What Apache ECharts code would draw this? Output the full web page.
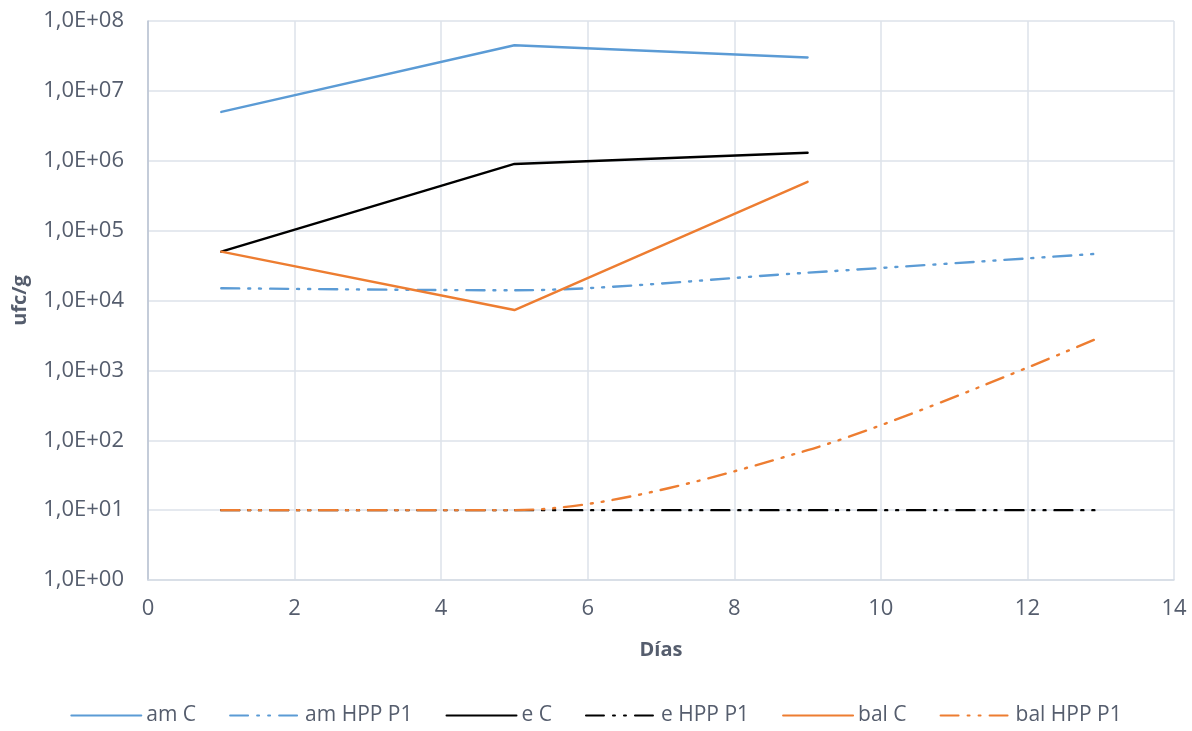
<!DOCTYPE html>
<html>
<head>
<meta charset="utf-8">
<script src="https://cdn.jsdelivr.net/npm/echarts@6/dist/echarts.min.js"></script>
<style>
  html, body { margin: 0; padding: 0; background: #fff; }
  #chart { width: 1192px; height: 731px; }
</style>
</head>
<body>
<div id="chart"></div>
<script>
// Sampling days
const diasC = [1, 5, 9];
const diasHPP = [1, 5, 9, 13];

// Counts (ufc/g) per series
const amC = [5.0e6, 4.5e7, 3.0e7];
const amHPP = [1.5e4, 1.4e4, 2.5e4, 4.7e4];
const eC = [5.0e4, 9.0e5, 1.3e6];
const eHPP = [10, 10, 10, 10];
const balC = [5.0e4, 7.3e3, 5.0e5];
const balHPP = [10, 10, 72, 3.0e3];

const BLUE = '#5B9BD5';
const ORANGE = '#ED7D31';
const BLACK = '#000000';
const TEXT = '#555d6d';
const FONT = '"Open Sans", "Noto Sans", sans-serif';
const DASH_DOT_DOT = [18, 9, 2, 9, 2, 9];

function pairs(xs, ys) { return xs.map((x, i) => [x, ys[i]]); }

function line(name, xs, ys, color, dashed) {
  return {
    name, type: 'line',
    data: pairs(xs, ys),
    symbol: 'none',
    smooth: dashed ? 0.3 : false,
    lineStyle: { color, width: 2.4, type: dashed ? DASH_DOT_DOT : 'solid', cap: 'round' },
    itemStyle: { color },
    emphasis: { disabled: true }
  };
}

function sci(v) {
  const e = Math.round(Math.log10(v));
  return '1,0E+' + String(e).padStart(2, '0');
}

const chart = echarts.init(document.getElementById('chart'), null, { renderer: 'canvas' });
chart.setOption({
  animation: false,
  backgroundColor: '#fff',
  textStyle: { fontFamily: FONT },
  grid: { left: 148, right: 18, top: 21, bottom: 151, containLabel: false },
  legend: {
    bottom: 0, left: 'center',
    itemWidth: 70, itemHeight: 14, itemGap: 33,
    // line-only keys: the marker dot is made fully transparent
    itemStyle: { color: 'rgba(0,0,0,0)', borderWidth: 0, opacity: 0 },
    textStyle: { color: TEXT, fontSize: 21, fontFamily: FONT },
    data: ['am C', 'am HPP P1', 'e C', 'e HPP P1', 'bal C', 'bal HPP P1']
  },
  xAxis: {
    type: 'value', min: 0, max: 14, interval: 2,
    name: 'Días', nameLocation: 'middle', nameGap: 60,
    nameTextStyle: { color: TEXT, fontSize: 20, fontWeight: 'bold', fontFamily: FONT },
    axisLine: { show: true, lineStyle: { color: '#d5dbe5', width: 1.5 } },
    axisTick: { show: false },
    axisLabel: { color: TEXT, fontSize: 22, margin: 18, fontFamily: FONT },
    splitLine: { show: true, lineStyle: { color: '#dde2ea', width: 1.5 } }
  },
  yAxis: {
    type: 'log', logBase: 10, min: 1, max: 1e8,
    name: 'ufc/g', nameLocation: 'middle', nameGap: 118, nameRotate: 90,
    nameTextStyle: { color: TEXT, fontSize: 20, fontWeight: 'bold', fontFamily: FONT },
    axisLine: { show: true, lineStyle: { color: '#b8c2d2', width: 1.5 } },
    axisTick: { show: false },
    axisLabel: { color: TEXT, fontSize: 22, margin: 24, formatter: sci, fontFamily: FONT },
    splitLine: { show: true, lineStyle: { color: '#dde2ea', width: 1.5 } }
  },
  series: [
    line('am C', diasC, amC, BLUE, false),
    line('am HPP P1', diasHPP, amHPP, BLUE, true),
    line('e C', diasC, eC, BLACK, false),
    line('e HPP P1', diasHPP, eHPP, BLACK, true),
    line('bal C', diasC, balC, ORANGE, false),
    line('bal HPP P1', diasHPP, balHPP, ORANGE, true)
  ]
});
</script>
</body>
</html>
